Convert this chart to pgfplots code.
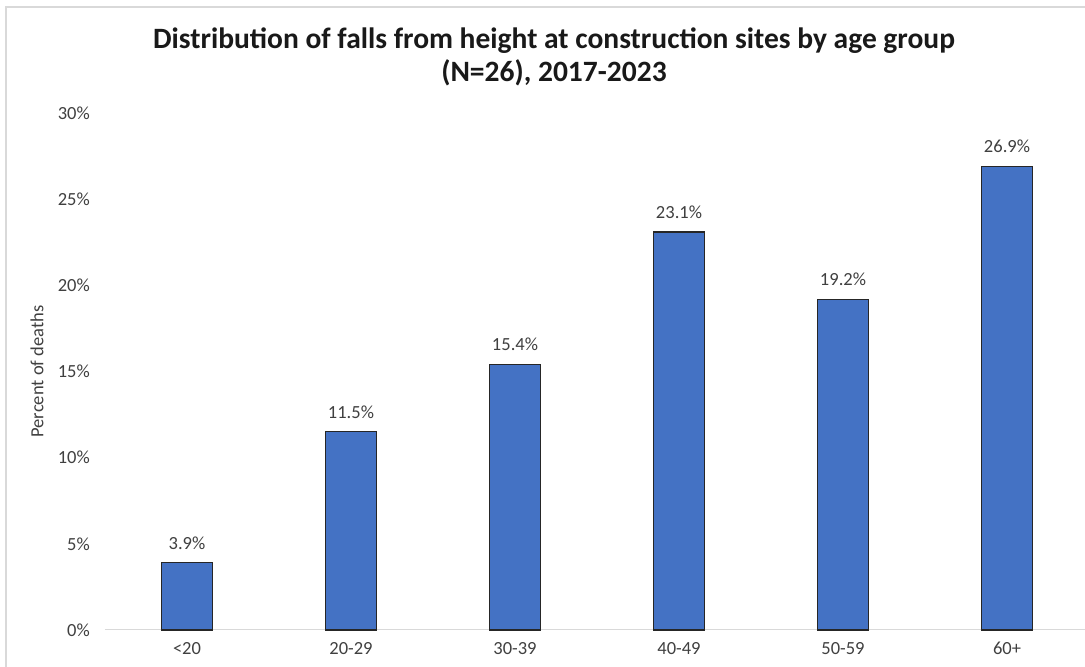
\documentclass[border=0pt]{standalone}
\usepackage{fontspec}
\setmainfont{Carlito}
\usepackage{pgfplots}
\pgfplotsset{compat=1.18}
\definecolor{barblue}{HTML}{4472C4}
\definecolor{txt}{HTML}{404040}
\definecolor{bord}{HTML}{D9D9D9}
\begin{document}
\begin{tikzpicture}[x=1pt,y=1pt]
\useasboundingbox (0pt,0pt) rectangle (1085pt,667pt);
\fill[white] (0pt,0pt) rectangle (1085pt,667pt);
\draw[bord, line width=1.5pt] (6pt,0pt) -- (6pt,660pt) -- (1085pt,660pt);
\node[font=\fontsize{29.5}{33}\selectfont\bfseries, align=center, text=black!90] at (554pt,610.5pt) {Distribution of falls from height at construction sites by age group\\(N=26), 2017-2023};
\begin{axis}[
  at={(187pt,37pt)}, anchor=origin,
  scale only axis, width=984pt, height=517pt,
  xmin=-0.5, xmax=5.5, ymin=0, ymax=30,
  axis lines*=left,
  x axis line style={bord, line width=1pt},
  y axis line style={draw=none},
  major tick length=0pt,
  /pgf/number format/assume math mode=true,
  ytick={0,5,10,15,20,25,30},
  yticklabel={\pgfmathprintnumber{\tick}\%},
  yticklabel style={anchor=east, inner sep=0pt, xshift=-15pt},
  xtick=data,
  xticklabels={<20,20-29,30-39,40-49,50-59,60+},
  xticklabel style={anchor=north, inner sep=0pt, yshift=-12pt},
  ticklabel style={font=\fontsize{18.5}{21}\selectfont, text=txt},
  ylabel={Percent of deaths},
  every axis y label/.style={at={(axis description cs:-0.069,0.5)}, rotate=90, anchor=center, font=\fontsize{18.5}{21}\selectfont, text=txt},
  ybar, bar width=51pt,
  nodes near coords={\pgfmathprintnumber[fixed,fixed zerofill,precision=1]{\pgfplotspointmeta}\%},
  every node near coord/.style={anchor=south, inner sep=0pt, yshift=13pt, font=\fontsize{18.5}{21}\selectfont, text=txt},
  clip=false,
]
\addplot[fill=barblue, draw=black!85, line width=1.2pt] coordinates {(0,3.9) (1,11.5) (2,15.4) (3,23.1) (4,19.2) (5,26.9)};
\end{axis}
\end{tikzpicture}
\end{document}
